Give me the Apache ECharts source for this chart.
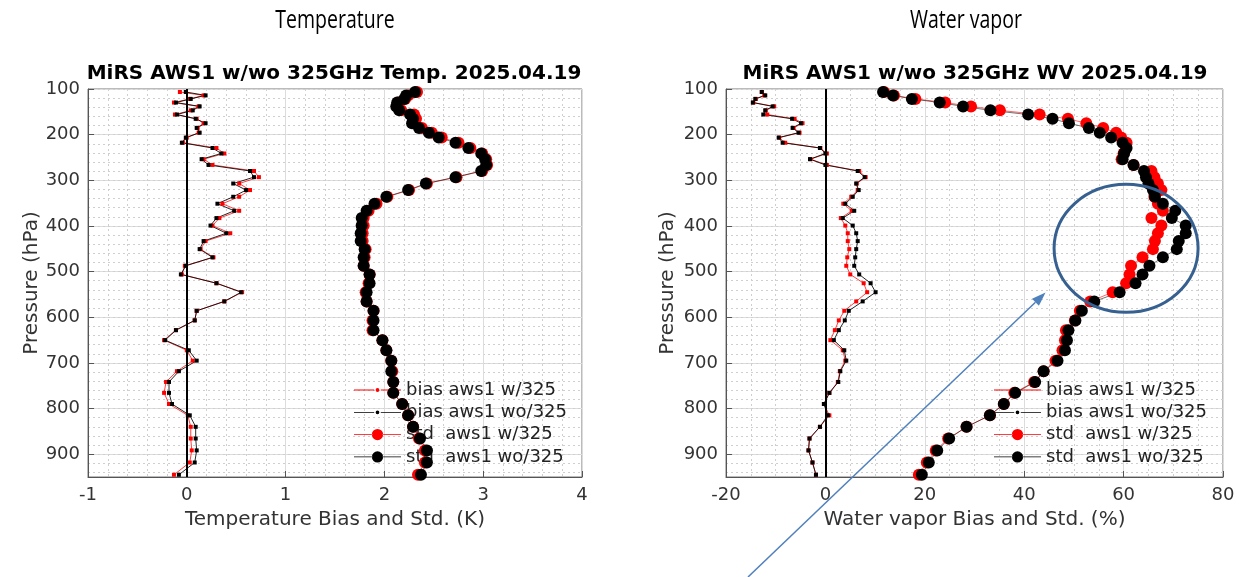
<!DOCTYPE html>
<html>
<head>
<meta charset="utf-8">
<script src="https://cdn.jsdelivr.net/npm/echarts@6/dist/echarts.min.js"></script>
<style>
html,body{margin:0;padding:0;background:#fff;}
#chart{width:1253px;height:577px;}
</style>
</head>
<body>
<div id="chart"></div>
<script>
// Pressure layers (hPa)
const pressure = [106.6,114.0,121.7,129.7,138.1,146.8,155.9,165.3,175.0,185.2,195.7,206.5,217.7,229.3,241.3,253.7,266.4,279.6,293.1,307.1,321.4,336.1,351.3,366.8,382.8,399.2,416.0,433.2,450.8,468.8,487.3,506.2,525.5,545.2,565.3,585.9,606.9,628.3,650.2,672.4,695.1,718.2,741.8,765.7,790.1,814.9,840.1,865.7,891.7,918.2,945.1];

// Temperature (K)
const tempBiasW  = [-0.07,0.17,0.03,-0.13,0.12,0.04,-0.12,0.10,0.17,0.11,0.12,0.00,-0.04,0.30,0.38,0.17,0.26,0.68,0.73,0.53,0.64,0.53,0.36,0.53,0.33,0.26,0.44,0.19,0.14,0.27,-0.02,-0.05,0.30,0.56,0.38,0.10,0.08,-0.11,-0.23,0.00,0.06,-0.10,-0.21,-0.23,-0.18,0.01,0.04,0.04,0.05,0.03,-0.13];
const tempBiasWo = [-0.01,0.19,0.04,-0.11,0.13,0.06,-0.10,0.09,0.19,0.10,0.13,-0.01,-0.05,0.26,0.35,0.15,0.22,0.64,0.68,0.47,0.60,0.47,0.31,0.48,0.30,0.24,0.40,0.17,0.13,0.26,-0.01,-0.06,0.30,0.55,0.38,0.10,0.08,-0.11,-0.22,0.02,0.10,-0.08,-0.18,-0.18,-0.15,0.03,0.09,0.09,0.10,0.08,-0.08];
const tempStdW   = [2.33,2.24,2.21,2.14,2.13,2.17,2.30,2.32,2.31,2.38,2.48,2.58,2.75,2.87,2.99,3.03,3.04,2.99,2.73,2.43,2.25,2.03,1.92,1.84,1.79,1.79,1.78,1.78,1.81,1.80,1.79,1.85,1.84,1.81,1.82,1.89,1.88,1.88,1.98,2.02,2.07,2.08,2.09,2.09,2.18,2.24,2.29,2.35,2.41,2.41,2.34];
const tempStdWo  = [2.31,2.22,2.20,2.13,2.12,2.15,2.26,2.29,2.28,2.35,2.45,2.55,2.72,2.85,2.98,3.02,3.03,2.98,2.72,2.42,2.24,2.02,1.90,1.82,1.77,1.77,1.76,1.76,1.80,1.79,1.79,1.85,1.85,1.82,1.82,1.89,1.89,1.89,1.98,2.02,2.07,2.07,2.09,2.09,2.18,2.24,2.29,2.36,2.43,2.43,2.37];

// Water vapor (%)
const wvBiasW  = [-12.8,-12.3,-14.0,-14.5,-10.3,-12.0,-11.7,-6.2,-4.6,-6.4,-5.2,-9.3,-8.1,-1.0,0.3,-3.0,0.3,6.8,8.1,6.3,6.5,5.2,3.6,5.3,3.1,4.0,4.5,4.5,4.8,4.4,4.2,5.0,7.7,8.4,6.2,3.8,2.7,1.9,1.0,3.5,4.0,2.9,2.5,0.8,-0.3,0.8,-1.1,-3.2,-3.4,-2.6,-1.9];
const wvBiasWo = [-12.8,-12.1,-14.1,-14.6,-10.6,-12.1,-12.5,-6.7,-4.9,-6.6,-5.4,-9.4,-8.6,-1.1,0.0,-3.1,0.0,6.5,7.9,6.2,6.7,5.5,4.0,5.8,3.5,5.5,6.2,6.5,6.2,6.0,5.8,6.8,9.1,10.1,7.5,4.7,3.9,2.7,1.7,3.8,4.2,3.0,2.6,0.8,-0.3,0.5,-1.1,-3.2,-3.4,-2.6,-1.9];
const wvStdW   = [11.8,13.8,18.1,24.1,29.3,35.1,43.1,48.8,52.5,55.9,58.5,59.5,60.6,60.5,60.0,59.6,62.0,65.6,66.2,66.9,67.6,66.2,66.9,67.9,65.6,67.6,66.9,66.3,65.9,63.8,61.5,61.2,60.5,57.8,53.3,51.2,50.2,48.4,48.2,47.7,46.3,43.9,42.0,38.0,35.9,33.1,28.4,24.7,22.2,20.4,18.8];
const wvStdWo  = [11.6,13.6,17.4,23.0,27.7,33.2,40.8,45.7,49.0,53.0,55.2,57.5,59.8,60.6,60.1,59.8,62.0,64.1,64.5,65.0,65.9,66.3,67.9,70.4,69.7,72.5,72.5,71.1,70.7,67.9,65.2,63.8,62.4,59.2,54.1,51.6,50.3,48.9,48.6,48.2,46.7,43.9,42.2,38.2,35.9,33.1,28.4,24.9,22.5,20.8,19.4];

const seriesNames = ['bias aws1 w/325','bias aws1 wo/325','std  aws1 w/325','std  aws1 wo/325'];
const panelTitles = ['MiRS AWS1 w/wo 325GHz Temp. 2025.04.19','MiRS AWS1 w/wo 325GHz WV 2025.04.19'];
const headings = ['Temperature','Water vapor'];
const xNames = ['Temperature Bias and Std. (K)','Water vapor Bias and Std. (%)'];

const FONT = 'DejaVu Sans';
const pair = arr => arr.map((v,i)=>[v, pressure[i]]);

const grids = [
  {left:88, top:89, width:494, height:388},
  {left:726, top:89, width:497, height:388}
];

function xAxisDef(gi, min, max, interval, minorSplit, name){
  return {
    gridIndex:gi, type:'value', min:min, max:max, interval:interval, position:'bottom',
    name:name, nameLocation:'middle', nameGap:33,
    nameTextStyle:{fontFamily:FONT, fontSize:20, color:'#333'},
    axisLine:{show:true, onZero:false, lineStyle:{color:'#555', width:1}},
    axisTick:{show:true, inside:true, length:6, lineStyle:{color:'#555'}},
    axisLabel:{fontFamily:FONT, fontSize:18, color:'#333', margin:9},
    splitLine:{show:true, lineStyle:{color:'#dcdcdc', width:1, type:'solid'}},
    minorTick:{show:false, splitNumber:minorSplit},
    minorSplitLine:{show:true, lineStyle:{color:'#cfcfcf', width:1, type:[2,3]}}
  };
}
function yMajor(gi, gap){
  return {
    gridIndex:gi, type:'value', inverse:true, min:100, max:950, interval:100, position:'left',
    name:'Pressure (hPa)', nameLocation:'middle', nameGap:gap,
    nameTextStyle:{fontFamily:FONT, fontSize:20, color:'#333'},
    axisLine:{show:true, onZero:false, lineStyle:{color:'#555', width:1}},
    axisTick:{show:true, inside:true, length:6, lineStyle:{color:'#555'}},
    axisLabel:{fontFamily:FONT, fontSize:18, color:'#333', margin:8,
      formatter: v => (v % 100 === 0 ? String(v) : '')},
    splitLine:{show:true, lineStyle:{color:'#dcdcdc', width:1}}
  };
}
function yMinor(gi){
  return {
    gridIndex:gi, type:'value', inverse:true, min:100, max:950, interval:20, position:'right',
    axisLine:{show:false}, axisTick:{show:false}, axisLabel:{show:false},
    splitLine:{show:true, lineStyle:{color:'#cfcfcf', width:1, type:[2,3]}}
  };
}

function mkSeries(gi, biasW, biasWo, stdW, stdWo){
  const base = {type:'line', xAxisIndex:gi, yAxisIndex:gi*2, silent:true, animation:false, z:3};
  return [
    Object.assign({}, base, {name:seriesNames[0], data:pair(biasW), symbol:'rect', symbolSize:4,
      lineStyle:{color:'#ff2020', width:1, opacity:0.85}, itemStyle:{color:'#ff0000'},
      markLine:{silent:true, symbol:'none', label:{show:false}, animation:false,
        lineStyle:{color:'#000', width:2, type:'solid'}, data:[{xAxis:0}]}}),
    Object.assign({}, base, {name:seriesNames[1], data:pair(biasWo), symbol:'rect', symbolSize:4,
      lineStyle:{color:'#000', width:1, opacity:0.85}, itemStyle:{color:'#000'}}),
    Object.assign({}, base, {name:seriesNames[2], data:pair(stdW), symbol:'circle', symbolSize:12,
      lineStyle:{color:'#ff0000', width:1, opacity:0.6}, itemStyle:{color:'#ff0000'}}),
    Object.assign({}, base, {name:seriesNames[3], data:pair(stdWo), symbol:'circle', symbolSize:12,
      lineStyle:{color:'#000', width:1, opacity:0.55}, itemStyle:{color:'#000'}})
  ];
}

// legend icons: thin line with small dot (bias) or big dot (std)
const iconSmall = 'path://M0,1.6L21.5,1.6L21.5,2.4L0,2.4Z M28.5,1.6L50,1.6L50,2.4L28.5,2.4Z M23,2a2,2 0 1,0 4,0a2,2 0 1,0 -4,0Z';
const iconBig   = 'path://M0,5.5L19.5,5.5L19.5,6.5L0,6.5Z M30.5,5.5L50,5.5L50,6.5L30.5,6.5Z M19,6a6,6 0 1,0 12,0a6,6 0 1,0 -12,0Z';

function legendDef(left){
  return {
    data:[
      {name:seriesNames[0], icon:iconSmall},
      {name:seriesNames[1], icon:iconSmall},
      {name:seriesNames[2], icon:iconBig},
      {name:seriesNames[3], icon:iconBig}
    ],
    orient:'vertical', left:left, top:376, z:1,
    itemWidth:47, itemHeight:12, itemGap:4.3, selectedMode:false,
    textStyle:{fontFamily:FONT, fontSize:18, color:'#222', lineHeight:18}
  };
}

const chart = echarts.init(document.getElementById('chart'), null, {renderer:'canvas'});
chart.setOption({
  animation:false,
  backgroundColor:'#fff',
  grid: grids.map(g => Object.assign({show:true, borderColor:'#777', borderWidth:1, backgroundColor:'#fff'}, g)),
  xAxis:[
    xAxisDef(0, -1, 4, 1, 5, xNames[0]),
    xAxisDef(1, -20, 80, 20, 4, xNames[1])
  ],
  yAxis:[ yMajor(0,45), yMinor(0), yMajor(1,48), yMinor(1) ],
  legend:[ legendDef(349), legendDef(989) ],
  series:[].concat(
    mkSeries(0, tempBiasW, tempBiasWo, tempStdW, tempStdWo),
    mkSeries(1, wvBiasW, wvBiasWo, wvStdW, wvStdWo)
  )
});

// Annotation (ellipse + arrow) placed in data coordinates of the WV panel
const c = chart.convertToPixel({gridIndex:1}, [60.5, 449]);
const tip = chart.convertToPixel({gridIndex:1}, [44.3, 546]);
const start = [748, 577];
const dx = tip[0]-start[0], dy = tip[1]-start[1];
const L = Math.sqrt(dx*dx+dy*dy), ux = dx/L, uy = dy/L;
const hl = 14, hw = 5;
const bx = tip[0]-ux*hl, by = tip[1]-uy*hl;

chart.setOption({
  graphic:[
    {type:'text', x:335, y:21, scaleX:0.75, style:{text:headings[0], font:'26px "Open Sans"', fill:'#000', align:'center', verticalAlign:'middle'}},
    {type:'text', x:966, y:21, scaleX:0.75, style:{text:headings[1], font:'26px "Open Sans"', fill:'#000', align:'center', verticalAlign:'middle'}},
    {type:'text', x:334, y:74, style:{text:panelTitles[0], font:'bold 20px "DejaVu Sans"', fill:'#000', align:'center', verticalAlign:'middle'}},
    {type:'text', x:975, y:74, style:{text:panelTitles[1], font:'bold 20px "DejaVu Sans"', fill:'#000', align:'center', verticalAlign:'middle'}},
    {type:'ellipse', z:100, shape:{cx:c[0], cy:c[1], rx:72, ry:64}, style:{fill:'none', stroke:'#36608f', lineWidth:3}},
    {type:'line', z:100, shape:{x1:start[0], y1:start[1], x2:bx, y2:by}, style:{stroke:'#4f81bd', lineWidth:1.5}},
    {type:'polygon', z:100, shape:{points:[[tip[0],tip[1]],[bx-uy*hw, by+ux*hw],[bx+uy*hw, by-ux*hw]]}, style:{fill:'#4f81bd'}}
  ]
});
</script>
</body>
</html>
